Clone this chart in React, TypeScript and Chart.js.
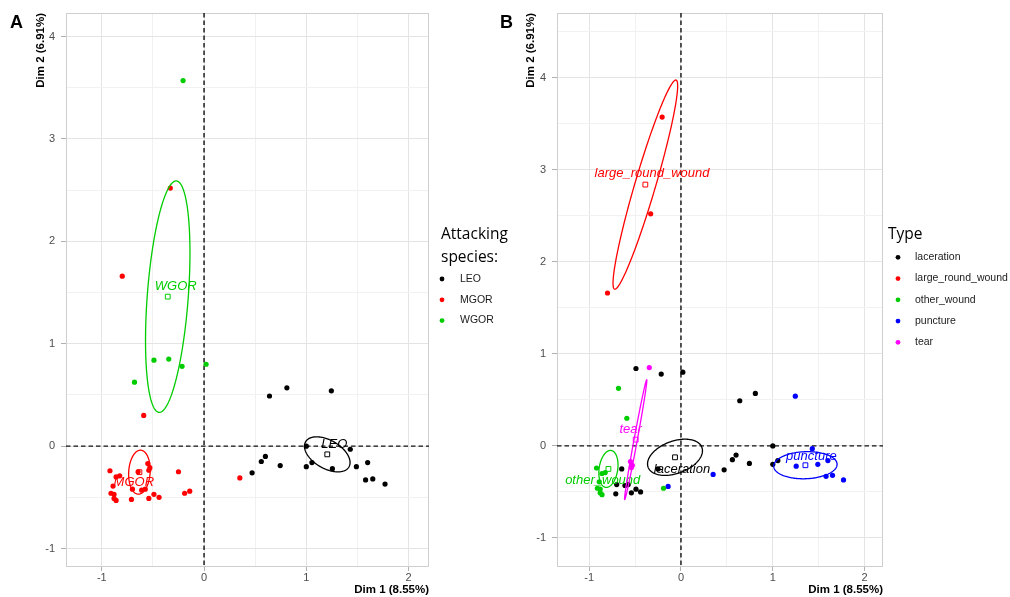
import React, { useEffect, useRef } from 'react';
import { Chart, registerables } from 'chart.js';
Chart.register(...registerables);

// ---------------- data ----------------
const dim1 = [-0.205, -0.33, -0.80, -0.68, -0.49, -0.345, -0.215, 0.02, -0.59, 0.35, -0.14, -0.19, -0.25,
  0.64, 0.81, 1.245, 1.0, 1.43, 0.60, 0.56, 0.47, 0.745, 1.0, 1.055, 1.255, 1.49, 1.60, 1.58, 1.65, 1.77,
  -0.92, -0.86, -0.825, -0.89, -0.91, -0.88, -0.88, -0.86, -0.645, -0.70, -0.71, -0.61, -0.54, -0.49, -0.44,
  -0.55, -0.53, -0.54, -0.575];
const dim2 = [3.57, 2.52, 1.66, 0.625, 0.84, 0.85, 0.78, 0.80, 0.30, -0.31, -0.44, -0.46, -0.25,
  0.49, 0.57, 0.54, 0.0, -0.03, -0.10, -0.15, -0.26, -0.19, -0.20, -0.16, -0.22, -0.20, -0.16, -0.33, -0.32, -0.37,
  -0.24, -0.30, -0.29, -0.39, -0.46, -0.47, -0.51, -0.53, -0.25, -0.42, -0.52, -0.43, -0.51, -0.47, -0.50,
  -0.17, -0.21, -0.235, -0.42];
const species = ['WGOR', 'MGOR', 'MGOR', 'WGOR', 'WGOR', 'WGOR', 'WGOR', 'WGOR', 'MGOR', 'MGOR', 'MGOR', 'MGOR', 'MGOR',
  'LEO', 'LEO', 'LEO', 'LEO', 'LEO', 'LEO', 'LEO', 'LEO', 'LEO', 'LEO', 'LEO', 'LEO', 'LEO', 'LEO', 'LEO', 'LEO', 'LEO',
  'MGOR', 'MGOR', 'MGOR', 'MGOR', 'MGOR', 'MGOR', 'MGOR', 'MGOR', 'MGOR', 'MGOR', 'MGOR', 'MGOR', 'MGOR', 'MGOR', 'MGOR',
  'MGOR', 'MGOR', 'MGOR', 'MGOR'];
const woundType = ['large_round_wound', 'large_round_wound', 'large_round_wound', 'other_wound', 'laceration', 'tear',
  'laceration', 'laceration', 'other_wound', 'puncture', 'puncture', 'other_wound', 'laceration',
  'laceration', 'laceration', 'puncture', 'laceration', 'puncture', 'laceration', 'laceration', 'laceration', 'laceration',
  'laceration', 'laceration', 'puncture', 'puncture', 'puncture', 'puncture', 'puncture', 'puncture',
  'other_wound', 'other_wound', 'other_wound', 'other_wound', 'other_wound', 'other_wound', 'other_wound', 'other_wound',
  'laceration', 'laceration', 'laceration', 'laceration', 'laceration', 'laceration', 'laceration',
  'tear', 'tear', 'tear', 'laceration'];

const speciesLevels = ['LEO', 'MGOR', 'WGOR'];
const speciesCentroidX = [1.205, -0.632, -0.355];
const speciesCentroidY = [-0.08, -0.254, 1.46];
const speciesEllipseMajor = [[0.212, -0.1225], [0.01, 0.215], [0.085, 1.13]];
const speciesEllipseMinor = [[0.069, 0.1195], [0.105, 0.0], [0.2, -0.015]];

const typeLevels = ['laceration', 'large_round_wound', 'other_wound', 'puncture', 'tear'];
const typeCentroidX = [-0.065, -0.388, -0.79, 1.355, -0.493];
const typeCentroidY = [-0.124, 2.837, -0.25, -0.21, 0.068];
const typeEllipseMajor = [[0.293, 0.107], [0.335, 1.135], [0.03, 0.2], [0.345, 0.01], [0.12, 0.65]];
const typeEllipseMinor = [[-0.06, 0.165], [0.108, -0.032], [0.1, -0.015], [0.0, 0.147], [0.0176, -0.0032]];

const xTicks = [-1, -0.5, 0, 0.5, 1, 1.5, 2];
const yTicksA = [-1, -0.5, 0, 0.5, 1, 1.5, 2, 2.5, 3, 3.5, 4];
const yTicksB = [-1, -0.5, 0, 0.5, 1, 1.5, 2, 2.5, 3, 3.5, 4, 4.5];
const refLines = [0];

// ---------------- styles ----------------
const FONT = '"Liberation Sans", Arial, sans-serif';
const TITLE_FONT = '"Open Sans", sans-serif';
const speciesColors = ['#000000', '#FF0000', '#00CD00'];
const typeColors = ['#000000', '#FF0000', '#00CD00', '#0000FF', '#FF00FF'];
const speciesLabelOffsets = [[7, -10], [-5.6, 10.3], [8, -10.7]];
const typeLabelOffsets = [[7, 11.7], [6.7, -11], [-5.7, 11.7], [6, -9.3], [-5, -10]];

type Panel = {
  letter: string;
  groups: string[];
  levels: string[];
  colors: string[];
  cx: number[];
  cy: number[];
  major: number[][];
  minor: number[][];
  offsets: number[][];
  yMin: number;
  yMax: number;
  yTicks: number[];
  yWidth: number;
  padRight: number;
  legendTitle: string[];
  legend: { titleX: number; titleY: number; titleGap: number; dotX: number; textX: number; itemY: number; itemGap: number };
};

function makeDecor(p: Panel) {
  return {
    id: 'decor' + p.letter,
    beforeDatasetsDraw(chart: any) {
      const { ctx, chartArea: a, scales } = chart;
      const xs = scales.x, ys = scales.y;
      ctx.save();
      ctx.strokeStyle = '#CFCFCF';
      ctx.lineWidth = 1;
      ctx.strokeRect(a.left + 0.5, a.top + 0.5, a.right - a.left - 1, a.bottom - a.top - 1);
      ctx.beginPath();
      ctx.rect(a.left, a.top, a.right - a.left, a.bottom - a.top);
      ctx.clip();
      ctx.setLineDash([4.5, 3]);
      ctx.strokeStyle = '#111111';
      ctx.lineWidth = 1.4;
      refLines.forEach((v) => {
        const px = xs.getPixelForValue(v);
        const py = ys.getPixelForValue(v);
        ctx.beginPath();
        ctx.moveTo(px, a.top);
        ctx.lineTo(px, a.bottom);
        ctx.stroke();
        ctx.beginPath();
        ctx.moveTo(a.left, py);
        ctx.lineTo(a.right, py);
        ctx.stroke();
      });
      ctx.restore();
    },
    afterDatasetsDraw(chart: any) {
      const { ctx, chartArea: a, scales } = chart;
      const xs = scales.x, ys = scales.y;
      ctx.save();
      ctx.beginPath();
      ctx.rect(a.left, a.top, a.right - a.left, a.bottom - a.top);
      ctx.clip();
      p.levels.forEach((lv, gi) => {
        const c = p.colors[gi];
        ctx.strokeStyle = c;
        ctx.lineWidth = 1.3;
        ctx.beginPath();
        const n = 180;
        for (let i = 0; i <= n; i++) {
          const t = (i / n) * Math.PI * 2;
          const dx = p.cx[gi] + p.major[gi][0] * Math.cos(t) + p.minor[gi][0] * Math.sin(t);
          const dy = p.cy[gi] + p.major[gi][1] * Math.cos(t) + p.minor[gi][1] * Math.sin(t);
          const px = xs.getPixelForValue(dx);
          const py = ys.getPixelForValue(dy);
          if (i === 0) ctx.moveTo(px, py);
          else ctx.lineTo(px, py);
        }
        ctx.closePath();
        ctx.stroke();
        ctx.fillStyle = c;
        ctx.font = `italic 13px ${FONT}`;
        ctx.textAlign = 'center';
        ctx.textBaseline = 'middle';
        const lx = xs.getPixelForValue(p.cx[gi]) + p.offsets[gi][0];
        const ly = ys.getPixelForValue(p.cy[gi]) + p.offsets[gi][1];
        ctx.fillText(lv, lx, ly);
      });
      ctx.restore();
    },
    afterDraw(chart: any) {
      const { ctx } = chart;
      const L = p.legend;
      ctx.save();
      ctx.fillStyle = '#000';
      ctx.font = `bold 18px ${FONT}`;
      ctx.textAlign = 'left';
      ctx.textBaseline = 'alphabetic';
      ctx.fillText(p.letter, 10, 28);
      ctx.font = `15.5px ${TITLE_FONT}`;
      ctx.textBaseline = 'middle';
      p.legendTitle.forEach((t, i) => ctx.fillText(t, L.titleX, L.titleY + i * L.titleGap));
      p.levels.forEach((lv, i) => {
        const yy = L.itemY + i * L.itemGap;
        ctx.fillStyle = p.colors[i];
        ctx.beginPath();
        ctx.arc(L.dotX, yy, 2.4, 0, Math.PI * 2);
        ctx.fill();
        ctx.fillStyle = '#1A1A1A';
        ctx.font = `10.5px ${FONT}`;
        ctx.fillText(lv, L.textX, yy);
      });
      ctx.restore();
    },
  };
}

function isMajor(v: number) {
  return Math.abs(v - Math.round(v)) < 1e-9;
}

function makeConfig(p: Panel): any {
  const datasets: any[] = p.levels.map((lv, gi) => ({
    type: 'scatter',
    label: lv,
    data: dim1.map((x, i) => ({ x, y: dim2[i], g: p.groups[i] })).filter((d) => d.g === lv),
    backgroundColor: p.colors[gi],
    borderWidth: 0,
    pointRadius: 2.6,
    pointHoverRadius: 2.6,
  }));
  datasets.push({
    type: 'scatter',
    label: 'centroids',
    data: p.cx.map((x, i) => ({ x, y: p.cy[i] })),
    pointStyle: 'rect',
    pointRadius: 3.4,
    pointHoverRadius: 3.4,
    backgroundColor: 'rgba(0,0,0,0)',
    borderColor: p.colors,
    borderWidth: 1,
  });
  const gridColor = (c: any) => (c.tick && isMajor(c.tick.value) ? '#E4E4E4' : '#F1F1F1');
  const tickColor = (c: any) => (c.tick && isMajor(c.tick.value) ? '#B0B0B0' : 'rgba(0,0,0,0)');
  const label = (v: any) => (isMajor(Number(v)) ? String(Math.round(Number(v))) : '');
  return {
    type: 'scatter',
    data: { datasets },
    plugins: [makeDecor(p)],
    options: {
      responsive: false,
      animation: false,
      events: [],
      layout: { padding: { left: 0, top: 13, right: p.padRight, bottom: 0 } },
      plugins: { legend: { display: false }, tooltip: { enabled: false } },
      scales: {
        x: {
          type: 'linear',
          min: -1.35,
          max: 2.2,
          afterBuildTicks: (s: any) => {
            s.ticks = xTicks.map((v) => ({ value: v }));
          },
          afterFit: (s: any) => {
            s.height = 30;
          },
          ticks: { callback: label, autoSkip: false, maxRotation: 0, padding: 0, color: '#4D4D4D', font: { size: 11, family: FONT } },
          grid: { color: gridColor, tickColor, tickLength: 4, lineWidth: 1 },
          border: { display: false },
          title: {
            display: true,
            text: 'Dim 1 (8.55%)',
            align: 'end',
            color: '#000',
            font: { size: 11.5, weight: 'bold', family: FONT },
            padding: { top: 0, bottom: 0 },
          },
        },
        y: {
          type: 'linear',
          min: p.yMin,
          max: p.yMax,
          afterBuildTicks: (s: any) => {
            s.ticks = p.yTicks.map((v) => ({ value: v }));
          },
          afterFit: (s: any) => {
            s.width = p.yWidth;
          },
          ticks: { callback: label, autoSkip: false, padding: 6, color: '#4D4D4D', font: { size: 11, family: FONT } },
          grid: { color: gridColor, tickColor, tickLength: 5, lineWidth: 1 },
          border: { display: false },
          title: {
            display: true,
            text: 'Dim 2 (6.91%)',
            align: 'end',
            color: '#000',
            font: { size: 11.5, weight: 'bold', family: FONT },
            padding: { top: 34, bottom: 0 },
          },
        },
      },
    },
  };
}

const panelA: Panel = {
  letter: 'A',
  groups: species,
  levels: speciesLevels,
  colors: speciesColors,
  cx: speciesCentroidX,
  cy: speciesCentroidY,
  major: speciesEllipseMajor,
  minor: speciesEllipseMinor,
  offsets: speciesLabelOffsets,
  yMin: -1.18,
  yMax: 4.23,
  yTicks: yTicksA,
  yWidth: 66,
  padRight: 101,
  legendTitle: ['Attacking', 'species:'],
  legend: { titleX: 441, titleY: 235, titleGap: 23, dotX: 442, textX: 460, itemY: 279, itemGap: 20.8 },
};

const panelB: Panel = {
  letter: 'B',
  groups: woundType,
  levels: typeLevels,
  colors: typeColors,
  cx: typeCentroidX,
  cy: typeCentroidY,
  major: typeEllipseMajor,
  minor: typeEllipseMinor,
  offsets: typeLabelOffsets,
  yMin: -1.315,
  yMax: 4.7,
  yTicks: yTicksB,
  yWidth: 67,
  padRight: 127,
  legendTitle: ['Type'],
  legend: { titleX: 398, titleY: 235, titleGap: 23, dotX: 408, textX: 425, itemY: 257.3, itemGap: 21.25 },
};

function PanelChart({ panel, left, width }: { panel: Panel; left: number; width: number }) {
  const ref = useRef<HTMLCanvasElement | null>(null);
  useEffect(() => {
    if (!ref.current) return;
    const chart = new Chart(ref.current, makeConfig(panel));
    return () => chart.destroy();
  }, [panel]);
  return (
    <canvas
      ref={ref}
      width={width}
      height={597}
      style={{ position: 'absolute', left, top: 0, width, height: 597 }}
    />
  );
}

export default function App() {
  return (
    <div style={{ position: 'fixed', left: 0, top: 0, width: 1010, height: 597, background: '#fff', overflow: 'hidden' }}>
      <PanelChart panel={panelA} left={0} width={530} />
      <PanelChart panel={panelB} left={490} width={520} />
    </div>
  );
}
